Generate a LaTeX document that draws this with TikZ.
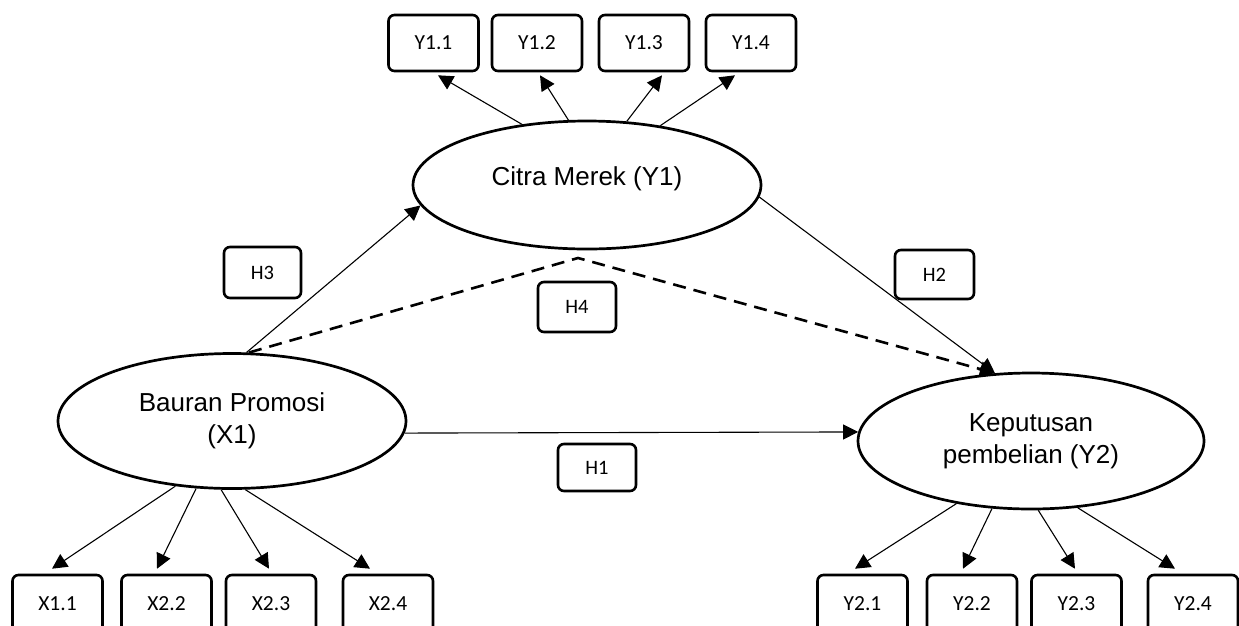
\documentclass[tikz,border=0pt]{standalone}
\usepackage{fontspec}
\setmainfont{Liberation Sans}
\newfontfamily\carl{Carlito}
\usetikzlibrary{shapes.geometric,arrows.meta}
\begin{document}
\begin{tikzpicture}[x=1pt,y=-1pt,
 ind/.style={draw,rounded corners=6pt,line width=2.6pt,minimum width=90pt,minimum height=56pt,inner sep=0pt,font=\carl\fontsize{21.5}{25}\selectfont},
 hyp/.style={draw,rounded corners=6pt,line width=2.6pt,inner sep=0pt,font=\carl\fontsize{20.5}{24}\selectfont},
 latent/.style={draw,ellipse,line width=2.7pt,inner sep=0pt,align=center,font=\fontsize{26}{32}\selectfont},
 arr/.style={line width=1.1pt,-{Triangle[length=15pt,width=15pt]}},
 darr/.style={line width=2.6pt,dash pattern=on 13pt off 8pt,-{Triangle[length=15pt,width=15pt]}}
]
\useasboundingbox (0,0) rectangle (1239,625);
\clip (0,0) rectangle (1239,625);

% latent variables
\node[latent,minimum width=348pt,minimum height=128pt] (cm) at (587,185) {\smash{Citra Merek (Y1)}};
\node[latent,minimum width=348pt,minimum height=135pt] (bp) at (232,421) {Bauran Promosi\\(X1)};
\node[latent,minimum width=346pt,minimum height=136pt] (kp) at (1031,441) {Keputusan\\pembelian (Y2)};

% indicator boxes
\node[ind] (y11) at (433.5,43) {Y1.1};
\node[ind] (y12) at (537,43) {Y1.2};
\node[ind] (y13) at (644,43) {Y1.3};
\node[ind] (y14) at (751,43) {Y1.4};

\node[ind,minimum height=58pt] (x11) at (57.5,604) {X1.1};
\node[ind,minimum height=58pt] (x22) at (166.5,604) {X2.2};
\node[ind,minimum height=58pt] (x23) at (271,604) {X2.3};
\node[ind,minimum height=58pt] (x24) at (388,604) {X2.4};

\node[ind,minimum height=58pt] (y21) at (862.5,604) {Y2.1};
\node[ind,minimum height=58pt] (y22) at (972,604) {Y2.2};
\node[ind,minimum height=58pt] (y23) at (1076.5,604) {Y2.3};
\node[ind,minimum height=58pt] (y24) at (1193,604) {Y2.4};

% hypothesis labels
\node[hyp,minimum width=77pt,minimum height=51pt] (h3) at (262.5,272.5) {H3};
\node[hyp,minimum width=78pt,minimum height=50pt] (h4) at (577,307) {H4};
\node[hyp,minimum width=79pt,minimum height=49pt] (h2) at (934.5,274.5) {H2};
\node[hyp,minimum width=78pt,minimum height=47pt] (h1) at (597,467.5) {H1};

% loadings Y1
\draw[arr] (cm.137) -- ([xshift=4.5pt,yshift=-3pt]y11.south);
\draw[arr] (cm.106) -- ([xshift=3pt,yshift=-3pt]y12.south);
\draw[arr] (cm.58) -- ([xshift=18pt,yshift=-3pt]y13.south);
\draw[arr] (cm.39) -- ([xshift=-16pt,yshift=-3pt]y14.south);

% loadings X1
\draw[arr] (bp.229.5) -- ([xshift=-5.5pt,yshift=5pt]x11.north);
\draw[arr] (bp.242) -- ([xshift=-9.5pt,yshift=5pt]x22.north);
\draw[arr] (bp.261) -- ([xshift=-2pt,yshift=5pt]x23.north);
\draw[arr] (bp.281) -- ([xshift=-18pt,yshift=5pt]x24.north);

% loadings Y2
\draw[arr] (kp.220) -- ([xshift=-7.5pt,yshift=5pt]y21.north);
\draw[arr] (kp.240.5) -- ([xshift=-9pt,yshift=5pt]y22.north);
\draw[arr] (kp.276) -- ([xshift=-1.5pt,yshift=5pt]y23.north);
\draw[arr] (kp.305.5) -- ([xshift=-18pt,yshift=5pt]y24.north);

% structural paths
\draw[arr] (bp.356.7) -- (kp.177.4);
\draw[arr] (bp.78) -- (cm.187);
\draw[arr] (cm.356) -- (kp.118);
\coordinate (med) at (578,258);
\draw[darr] (bp.76) -- (med) -- (kp.118);
\end{tikzpicture}
\end{document}
